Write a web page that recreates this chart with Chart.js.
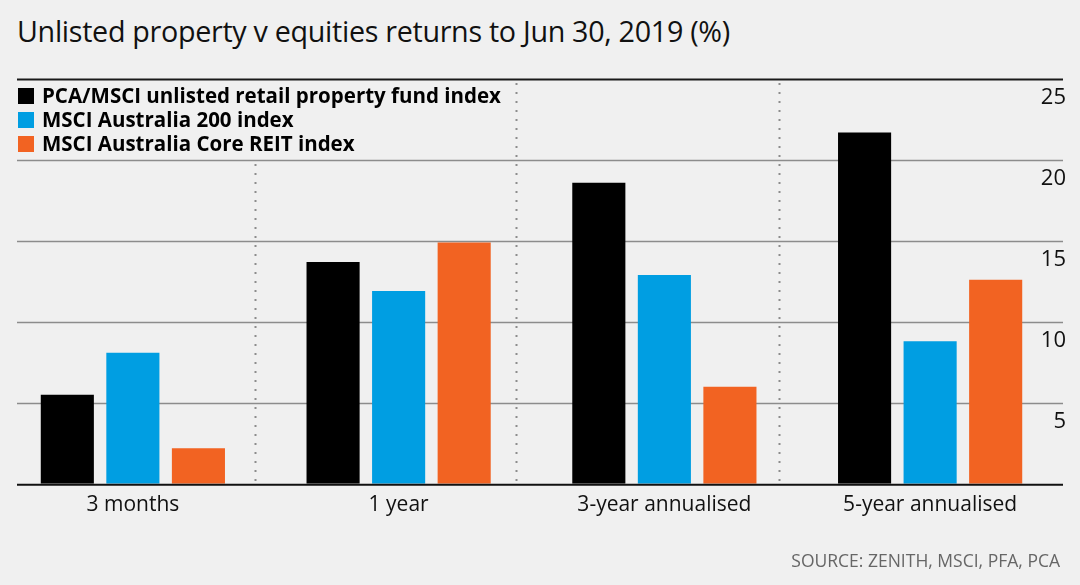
<!doctype html>
<html lang="en">
<head>
<meta charset="utf-8">
<title>Unlisted property v equities returns</title>
<script src="https://cdn.jsdelivr.net/npm/chart.js@4.4.1/dist/chart.umd.min.js"></script>
<style>
  html, body { margin: 0; padding: 0; background: #f0f0f0; }
  #wrap { position: relative; width: 1080px; height: 585px; overflow: hidden; }
  #wrap canvas { position: absolute; left: 0; top: 0; }
  h1 {
    position: absolute; left: 17px; top: 11px; margin: 0;
    font: 400 28.7px "Open Sans", sans-serif; color: #111; letter-spacing: -0.3px;
  }
  .source {
    position: absolute; right: 20px; top: 548px; margin: 0;
    font: 400 17.5px "Open Sans", sans-serif; color: #666;
  }
</style>
</head>
<body>
<div id="wrap">
  <h1>Unlisted property v equities returns to Jun 30, 2019 (%)</h1>
  <canvas id="returns" width="1080" height="585"></canvas>
  <p class="source">SOURCE: ZENITH, MSCI, PFA, PCA</p>
</div>

<script>
// data
var periods = ["3 months", "1 year", "3-year annualised", "5-year annualised"];
var seriesNames = ["PCA/MSCI unlisted retail property fund index", "MSCI Australia 200 index", "MSCI Australia Core REIT index"];
var unlistedProperty = [5.5, 13.7, 18.6, 21.7];
var asx200 = [8.1, 11.9, 12.9, 8.8];
var coreReit = [2.2, 14.9, 6.0, 12.6];
var yTicks = [0, 5, 10, 15, 20, 25];

var colors = ["#000000", "#009ee2", "#f26322"];
var bg = "#f0f0f0";
// dotted separators sit a little left of the category edges in the original
var separators = [0.46, 1.44, 2.43];

// gridlines, separators and the boxed legend in the top-left corner
var decor = {
  id: "decor",
  beforeDatasetsDraw: function(chart) {
    var ctx = chart.ctx, area = chart.chartArea;
    var x = chart.scales.x, y = chart.scales.y;
    var left = 17;
    ctx.save();

    // dotted verticals
    ctx.strokeStyle = "#8c8c8c";
    ctx.lineWidth = 2;
    ctx.setLineDash([2, 7]);
    separators.forEach(function(s) {
      var px = Math.round(x.getPixelForValue(s)) + 0.5;
      ctx.beginPath();
      ctx.moveTo(px, area.top + 4);
      ctx.lineTo(px, area.bottom);
      ctx.stroke();
    });
    ctx.setLineDash([]);

    // horizontal gridlines
    yTicks.forEach(function(t) {
      if (t === 0) return;
      var py = Math.round(y.getPixelForValue(t)) + 0.5;
      ctx.strokeStyle = t === 25 ? "#1a1a1a" : "#8c8c8c";
      ctx.lineWidth = t === 25 ? 2 : 1.5;
      ctx.beginPath();
      ctx.moveTo(left, py);
      ctx.lineTo(area.right, py);
      ctx.stroke();
    });

    // legend box
    var top = y.getPixelForValue(25) + 2;
    ctx.fillStyle = bg;
    ctx.fillRect(left, top, 491, 78);
    ctx.font = "700 20.5px 'Open Sans', sans-serif";
    ctx.textBaseline = "middle";
    chart.data.datasets.forEach(function(ds, i) {
      var cy = top + 15 + i * 24;
      ctx.fillStyle = ds.backgroundColor;
      ctx.fillRect(left + 1, cy - 8, 16, 16);
      ctx.fillStyle = "#000";
      ctx.fillText(ds.label, left + 25, cy + 1);
    });
    ctx.restore();
  },
  afterDatasetsDraw: function(chart) {
    var ctx = chart.ctx, area = chart.chartArea;
    ctx.save();
    ctx.strokeStyle = "#111";
    ctx.lineWidth = 2;
    ctx.beginPath();
    ctx.moveTo(17, area.bottom + 1);
    ctx.lineTo(area.right, area.bottom + 1);
    ctx.stroke();
    ctx.restore();
  }
};

var ctx = document.getElementById("returns");
var myChart = new Chart(ctx, {
  type: "bar",
  data: {
    labels: periods,
    datasets: [
      { label: seriesNames[0], data: unlistedProperty, backgroundColor: colors[0] },
      { label: seriesNames[1], data: asx200, backgroundColor: colors[1] },
      { label: seriesNames[2], data: coreReit, backgroundColor: colors[2] }
    ]
  },
  options: {
    responsive: false,
    animation: false,
    layout: { padding: { left: 0, right: 11, top: 79, bottom: 58 } },
    datasets: { bar: { barPercentage: 0.81, categoryPercentage: 0.74 } },
    plugins: {
      legend: { display: false },
      tooltip: { enabled: false }
    },
    scales: {
      x: {
        grid: { display: false, drawTicks: false },
        border: { display: false },
        ticks: {
          padding: 9,
          color: "#111",
          font: { family: "'Open Sans', sans-serif", size: 21 }
        }
      },
      y: {
        position: "right",
        min: 0,
        max: 25,
        afterBuildTicks: function(scale) {
          scale.ticks = yTicks.map(function(v) { return { value: v }; });
        },
        grid: { display: false, drawTicks: false },
        border: { display: false },
        ticks: {
          mirror: true,
          padding: 3,
          labelOffset: 19,
          color: "#111",
          font: { family: "'Open Sans', sans-serif", size: 22 },
          callback: function(v) { return v === 0 ? "" : v; }
        }
      }
    }
  },
  plugins: [decor]
});
</script>
</body>
</html>
